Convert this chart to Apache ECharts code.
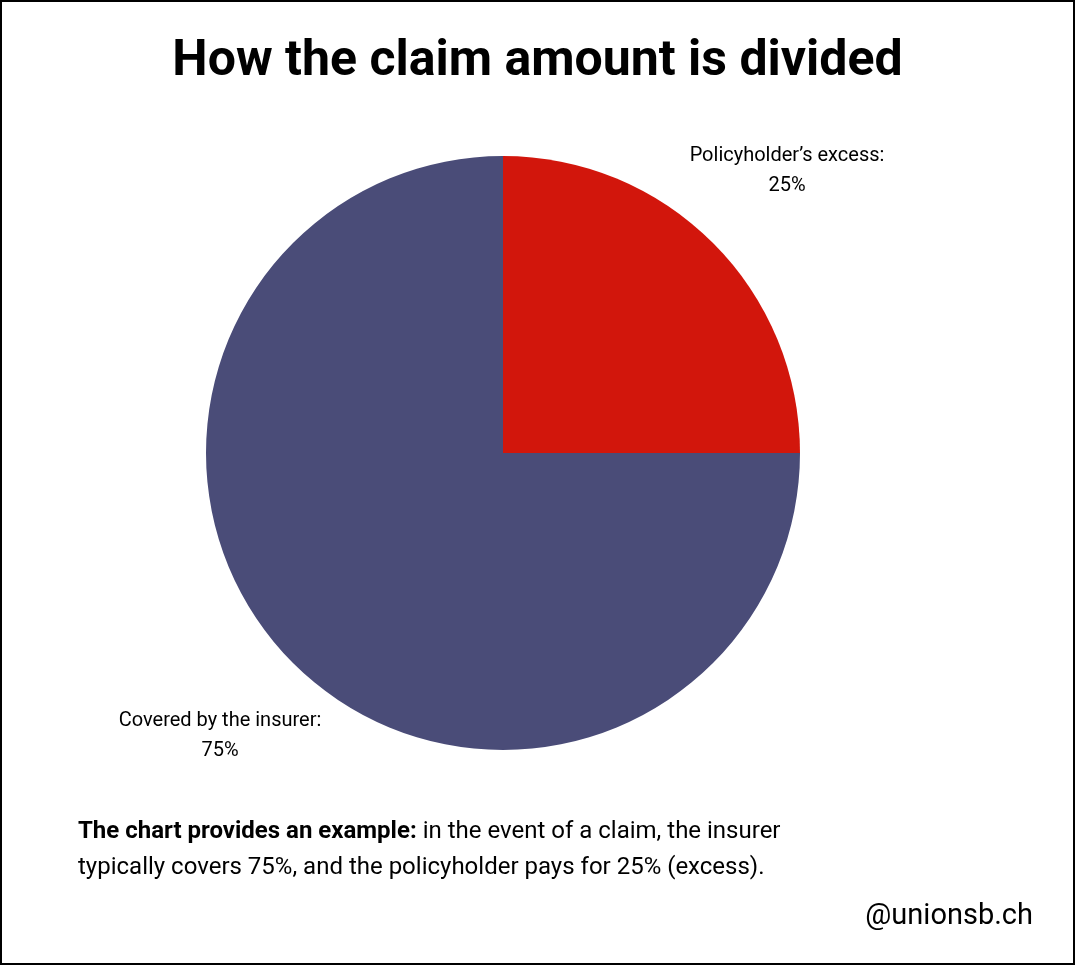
<!DOCTYPE html>
<html><head><meta charset="utf-8">
<script src="https://cdn.jsdelivr.net/npm/echarts@6/dist/echarts.min.js"></script>
<style>html,body{margin:0;padding:0;background:#fff}#c{width:1075px;height:965px;box-sizing:border-box;border:2px solid #000}</style>
</head><body><div id="c"></div>
<script>
const categories = ["Policyholder’s excess:", "Covered by the insurer:"];
const values = [25, 75];
const colors = ["#D2160C", "#4A4C78"];
const chart = echarts.init(document.getElementById('c'));
const labelPos = [{x: 787, y: 171}, {x: 220, y: 736}];
chart.setOption({
  animation: false,
  title: {text: "How the claim amount is divided", left: 'center', top: 30,
    textStyle: {fontFamily: 'Roboto', fontWeight: 'bold', fontSize: 50, color: '#000'}},
  series: [{
    type: 'pie', center: [501, 451], radius: 297, startAngle: 90, clockwise: true,
    data: categories.map((c, i) => ({name: c, value: values[i], itemStyle: {color: colors[i]}})),
    label: {show: true, formatter: p => p.name + '\n' + p.value + '%', fontFamily: 'Roboto', fontSize: 20,
      color: '#000', lineHeight: 30, align: 'center'},
    labelLine: {show: false},
    labelLayout: p => ({x: labelPos[p.dataIndex].x - 2, y: labelPos[p.dataIndex].y - 2, align: 'center', verticalAlign: 'middle'}),
    emphasis: {disabled: true}
  }],
  graphic: [
    {type: 'text', left: 76, top: 812, style: {
      text: '{b|The chart provides an example:} in the event of a claim, the insurer\ntypically covers 75%, and the policyholder pays for 25% (excess).',
      font: '24px Roboto', fill: '#000', lineHeight: 36,
      rich: {b: {fontWeight: 'bold', fontSize: 24, fontFamily: 'Roboto'}}}},
    {type: 'text', right: 40, top: 900, style: {text: '@unionsb.ch', font: '29px Roboto', fill: '#000'}}
  ]
});
</script></body></html>
